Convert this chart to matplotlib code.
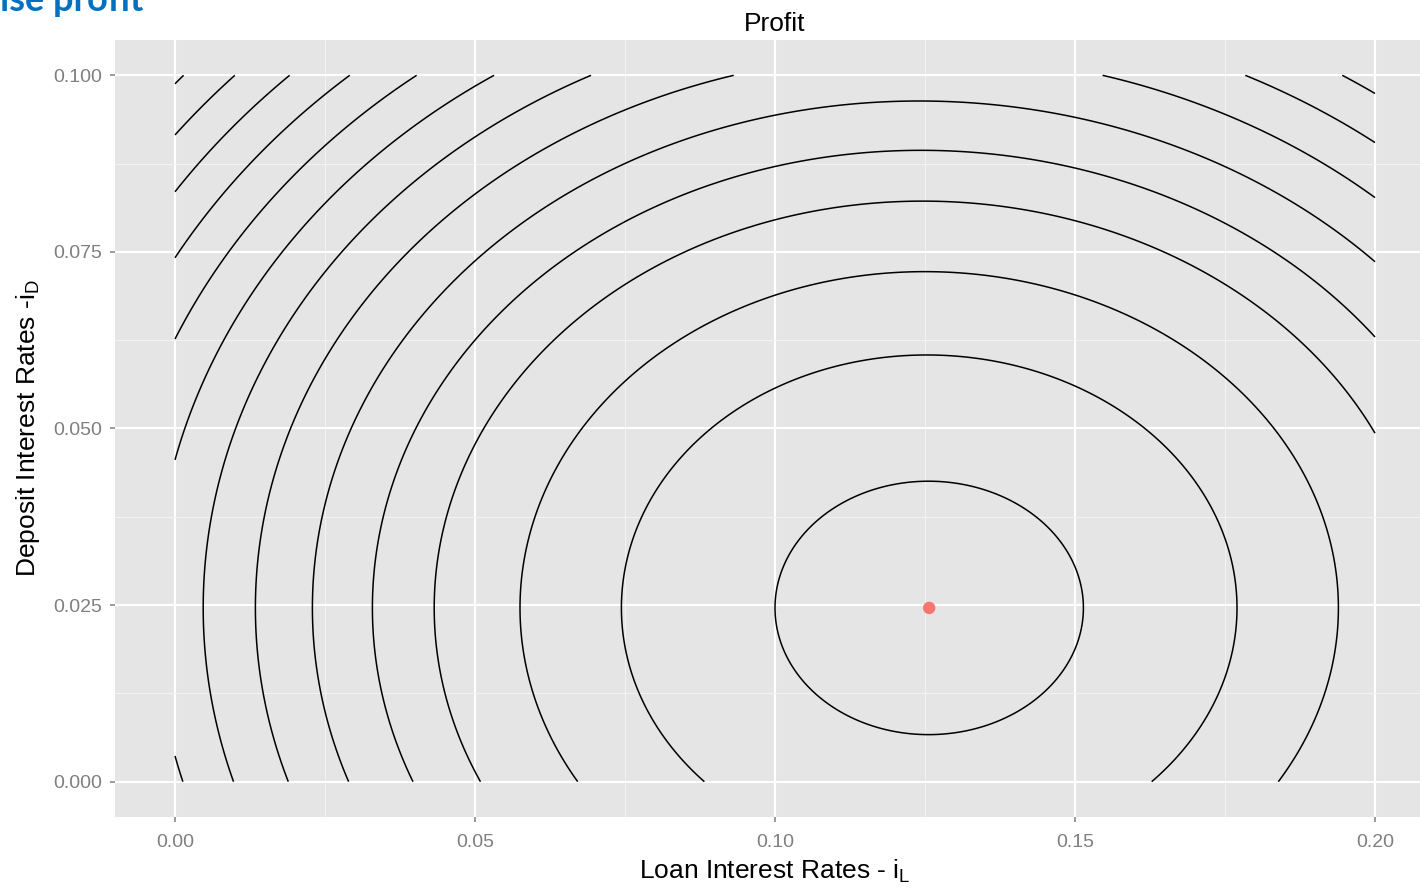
import matplotlib
matplotlib.use("Agg")
import matplotlib.pyplot as plt
import numpy as np

# optimum (red point)
opt_loan = 0.1257
opt_deposit = 0.0246

# contour rings: half-width along the loan axis through the optimum
ring_halfwidths = [0.0257, 0.0513, 0.0682, 0.0825, 0.0928, 0.1028, 0.1123,
                   0.1210, 0.1291, 0.1366, 0.1437, 0.1505, 0.1570, 0.1633]
# deposit/loan axis ratio of the rings (a bit flatter towards high loan rates)
ring_ratio_at_opt = 0.698
ring_ratio_slope = -0.11

loan_range = (0.0, 0.20)
deposit_range = (0.0, 0.10)

x_ticks = [0.00, 0.05, 0.10, 0.15, 0.20]
x_ticklabels = ["0.00", "0.05", "0.10", "0.15", "0.20"]
y_ticks = [0.000, 0.025, 0.050, 0.075, 0.100]
y_ticklabels = ["0.000", "0.025", "0.050", "0.075", "0.100"]

plt.rcParams['font.family'] = ['Liberation Sans', 'DejaVu Sans']
plt.rcParams['mathtext.fontset'] = 'custom'
plt.rcParams['mathtext.rm'] = 'Liberation Sans'
plt.rcParams['mathtext.it'] = 'Liberation Sans:italic'

fig = plt.figure(figsize=(14.2, 8.88), dpi=100)
ax = fig.add_axes([115 / 1420, 71 / 888, 1320 / 1420, 777 / 888])
ax.set_facecolor('#E5E5E5')

# grid, ggplot style
ax.set_xticks(x_ticks)
ax.set_xticklabels(x_ticklabels)
ax.set_yticks(y_ticks)
ax.set_yticklabels(y_ticklabels)
ax.set_xticks([0.025, 0.075, 0.125, 0.175], minor=True)
ax.set_yticks([0.0125, 0.0375, 0.0625, 0.0875], minor=True)
ax.grid(which='major', color='white', linewidth=1.5)
ax.grid(which='minor', color='#F2F2F2', linewidth=0.8)
ax.set_axisbelow(True)
for s in ax.spines.values():
    s.set_visible(False)
ax.tick_params(which='major', length=3.5, width=1.1, color='#7F7F7F',
               labelcolor='#7F7F7F', labelsize=14, pad=6)
ax.tick_params(axis='x', pad=8.5)
ax.tick_params(which='minor', length=0)

# profit surface
xs = np.linspace(loan_range[0], loan_range[1], 401)
ys = np.linspace(deposit_range[0], deposit_range[1], 401)
X, Y = np.meshgrid(xs, ys)
ratio = ring_ratio_at_opt + ring_ratio_slope * (X - opt_loan)
Z = -((X - opt_loan) ** 2 + ((Y - opt_deposit) / ratio) ** 2)
levels = sorted(-(np.array(ring_halfwidths) ** 2))
ax.contour(X, Y, Z, levels=levels, colors='black', linewidths=1.1,
           linestyles='solid')

ax.scatter([opt_loan], [opt_deposit], s=80, color='#F8766D', zorder=5,
           edgecolors='none')

ax.set_xlim(-0.01, 0.21)
ax.set_ylim(-0.005, 0.105)

ax.set_title("Profit", fontsize=19, pad=6.5)
ax.set_xlabel(r"Loan Interest Rates - i$_\mathregular{L}$", fontsize=19, labelpad=5)
ax.set_ylabel(r"Deposit Interest Rates -i$_\mathregular{D}$", fontsize=19, labelpad=8)

fig.text(0, 1 - 11 / 888, "ise profit", color='#0070C0', fontsize=26,
         fontweight='bold', family=['Lato', 'DejaVu Sans'], va='baseline', ha='left')

fig.savefig("out.png", dpi=100)
